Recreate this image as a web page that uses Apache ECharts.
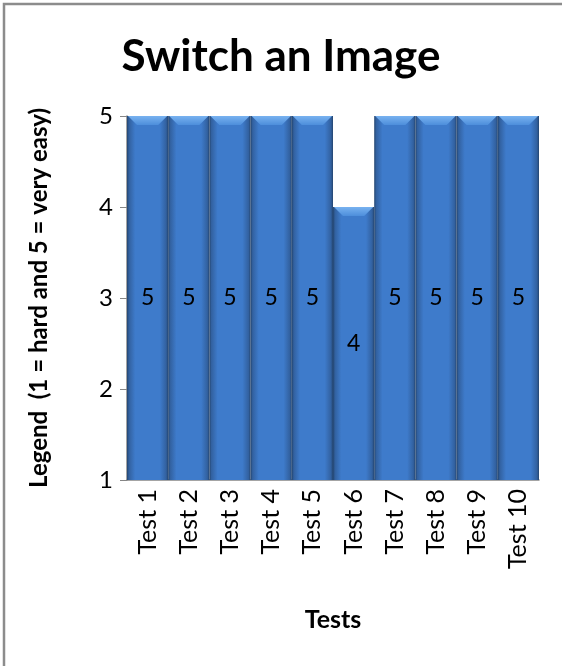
<!DOCTYPE html>
<html>
<head>
<meta charset="utf-8">
<script src="https://cdn.jsdelivr.net/npm/echarts@6/dist/echarts.min.js"></script>
<style>
  html, body { margin: 0; padding: 0; background: #ffffff; }
  #chart { width: 562px; height: 666px; }
</style>
</head>
<body>
<div id="chart"></div>
<script>
// Ease-of-use ratings per test run
const categories = ['Test 1', 'Test 2', 'Test 3', 'Test 4', 'Test 5', 'Test 6', 'Test 7', 'Test 8', 'Test 9', 'Test 10'];
const scores = [5, 5, 5, 5, 5, 4, 5, 5, 5, 5];
const yTicks = [1, 2, 3, 4, 5];

const yMin = yTicks[0];
const yMax = yTicks[yTicks.length - 1];
const FONT = 'Lato, "Liberation Sans", sans-serif';

const chart = echarts.init(document.getElementById('chart'));

// Bevelled column: darker side edges, lighter chamfer along the top
function renderColumn(params, api) {
  const idx = api.value(0);
  const val = api.value(1);
  const base = api.coord([idx, yMin]);
  const top = api.coord([idx, val]);
  const w = api.size([1, 0])[0];
  const x0 = base[0] - w / 2;
  const h = base[1] - top[1];
  const bevel = 9;
  return {
    type: 'group',
    children: [
      {
        type: 'rect',
        shape: { x: x0, y: top[1], width: w, height: h },
        style: {
          fill: new echarts.graphic.LinearGradient(0, 0, 1, 0, [
            { offset: 0, color: '#24456f' },
            { offset: 0.05, color: '#3261a0' },
            { offset: 0.2, color: '#3e7bcb' },
            { offset: 0.8, color: '#3e7bcb' },
            { offset: 0.95, color: '#3261a0' },
            { offset: 1, color: '#24456f' }
          ])
        }
      },
      {
        type: 'polygon',
        shape: {
          points: [
            [x0 + 1, top[1]],
            [x0 + w - 1, top[1]],
            [x0 + w - bevel - 1, top[1] + bevel],
            [x0 + bevel + 1, top[1] + bevel]
          ]
        },
        style: {
          fill: new echarts.graphic.LinearGradient(0, 0, 0, 1, [
            { offset: 0, color: '#78b2f0' },
            { offset: 1, color: '#4d8edb' }
          ])
        }
      },
      {
        type: 'text',
        style: {
          text: String(val),
          x: base[0],
          y: (base[1] + top[1]) / 2,
          align: 'center',
          verticalAlign: 'middle',
          fill: '#000000',
          fontSize: 23,
          fontFamily: FONT
        }
      }
    ]
  };
}

chart.setOption({
  backgroundColor: '#ffffff',
  animation: false,
  title: {
    text: 'Switch an Image',
    left: 'center',
    top: 30,
    textStyle: { fontFamily: FONT, fontSize: 44, fontWeight: 'bold', color: '#000000' }
  },
  graphic: [
    {
      type: 'rect',
      shape: { x: 4, y: 4, width: 620, height: 720 },
      style: { fill: 'none', stroke: '#8c8c8c', lineWidth: 2.5 },
      silent: true
    }
  ],
  grid: { left: 127, right: 23, top: 116, bottom: 186 },
  xAxis: {
    type: 'category',
    data: categories,
    boundaryGap: true,
    axisLine: { lineStyle: { color: '#868686', width: 1.5 } },
    axisTick: { show: false },
    axisLabel: { rotate: 90, margin: 9, fontSize: 25, fontFamily: FONT, color: '#000000', interval: 0 },
    name: 'Tests',
    nameLocation: 'middle',
    nameGap: 127,
    nameTextStyle: { fontFamily: FONT, fontSize: 25, fontWeight: 'bold', color: '#000000' }
  },
  yAxis: {
    type: 'value',
    min: yMin,
    max: yMax,
    interval: 1,
    axisLine: { show: true, lineStyle: { color: '#868686', width: 1.5 } },
    axisTick: { show: true, length: 7, lineStyle: { color: '#868686' } },
    splitLine: { show: false },
    axisLabel: { margin: 14, fontSize: 24, fontFamily: FONT, color: '#000000' },
    name: 'Legend  (1 = hard and 5 = very easy)',
    nameLocation: 'middle',
    nameRotate: 90,
    nameGap: 76,
    nameTextStyle: { fontFamily: FONT, fontSize: 24, fontWeight: 'bold', color: '#000000' }
  },
  series: [
    {
      type: 'custom',
      renderItem: renderColumn,
      encode: { x: 0, y: 1 },
      data: categories.map((c, i) => [i, scores[i]])
    }
  ]
});
</script>
</body>
</html>
